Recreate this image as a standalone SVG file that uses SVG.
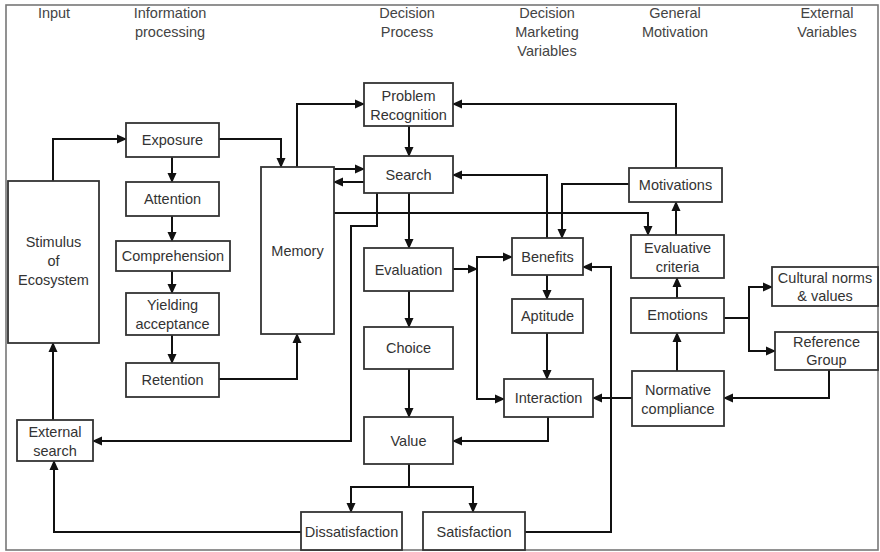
<svg xmlns="http://www.w3.org/2000/svg" width="880" height="552" viewBox="0 0 880 552">
<defs>
<marker id="ah" markerUnits="userSpaceOnUse" markerWidth="10" markerHeight="10" refX="9" refY="5" orient="auto">
<path d="M0,0.5 L10,5 L0,9.5 z" fill="#111"/>
</marker>
<style>
.box{fill:#fff;stroke:#333;stroke-width:1.8}
.t{font-family:"Liberation Sans",Arial,sans-serif;font-size:14.5px;fill:#333;text-anchor:middle}
.h{font-family:"Liberation Sans",Arial,sans-serif;font-size:14.5px;fill:#444;text-anchor:middle}
.c{fill:none;stroke:#111;stroke-width:2}
.a{marker-end:url(#ah)}
</style>
</defs>
<rect x="0" y="0" width="880" height="552" fill="#fff"/>
<rect x="6" y="5" width="872" height="545" fill="none" stroke="#777" stroke-width="1.6"/>

<g id="headers">
<text class="h" x="54" y="18">Input</text>
<text class="h" x="170" y="18">Information</text>
<text class="h" x="170" y="37">processing</text>
<text class="h" x="407" y="18">Decision</text>
<text class="h" x="407" y="37">Process</text>
<text class="h" x="547" y="18">Decision</text>
<text class="h" x="547" y="37">Marketing</text>
<text class="h" x="547" y="56">Variables</text>
<text class="h" x="675" y="18">General</text>
<text class="h" x="675" y="37">Motivation</text>
<text class="h" x="827" y="18">External</text>
<text class="h" x="827" y="37">Variables</text>
</g>

<g id="connectors">
<path class="c a" d="M53,181 V139 H126"/>
<path class="c a" d="M172,157 V182"/>
<path class="c a" d="M172,216 V241"/>
<path class="c a" d="M172,271 V293"/>
<path class="c a" d="M172,335 V363"/>
<path class="c a" d="M219,379 H297 V334"/>
<path class="c a" d="M219,139 H281 V167"/>
<path class="c a" d="M297,167 V104 H364"/>
<path class="c a" d="M409,126 V156"/>
<path class="c a" d="M334,169 H364"/>
<path class="c a" d="M364,182 H334"/>
<path class="c a" d="M409,193 V248"/>
<path class="c a" d="M409,291 V327"/>
<path class="c a" d="M334,213 H648 V235"/>
<path class="c a" d="M377,193 V226 H351 V441 H93"/>
<path class="c a" d="M547,238 V175 H453"/>
<path class="c a" d="M629,184 H562 V238"/>
<path class="c a" d="M676,168 V104 H453"/>
<path class="c a" d="M676,235 V202"/>
<path class="c a" d="M677,298 V278"/>
<path class="c a" d="M677,371 V333"/>
<path class="c" d="M724,318 H749"/>
<path class="c a" d="M749,318 V287 H772"/>
<path class="c a" d="M749,318 V351 H775"/>
<path class="c a" d="M829,370 V398 H724"/>
<path class="c a" d="M632,398 H593"/>
<path class="c a" d="M453,269 H477"/>
<path class="c a" d="M477,269 V257 H512"/>
<path class="c a" d="M477,269 V399 H504"/>
<path class="c a" d="M547,275 V299"/>
<path class="c a" d="M547,333 V379"/>
<path class="c a" d="M548,417 V441 H453"/>
<path class="c a" d="M409,369 V417"/>
<path class="c" d="M409,464 V487"/>
<path class="c a" d="M409,487 H351 V512"/>
<path class="c a" d="M409,487 H473 V512"/>
<path class="c a" d="M301,532 H54 V461"/>
<path class="c a" d="M53,420 V343"/>
<path class="c a" d="M525,532 H611 V267 H583"/>
</g>

<g id="stimulus"><rect class="box" x="8" y="181" width="91" height="162"/>
<text class="t" x="53.5" y="247">Stimulus</text><text class="t" x="53.5" y="266">of</text><text class="t" x="53.5" y="285">Ecosystem</text></g>
<g id="exposure"><rect class="box" x="126" y="123" width="93" height="34"/><text class="t" x="172.5" y="145">Exposure</text></g>
<g id="attention"><rect class="box" x="126" y="182" width="93" height="34"/><text class="t" x="172.5" y="204">Attention</text></g>
<g id="comprehension"><rect class="box" x="116" y="241" width="114" height="30"/><text class="t" x="173" y="261">Comprehension</text></g>
<g id="yielding"><rect class="box" x="126" y="293" width="93" height="42"/><text class="t" x="172.5" y="310">Yielding</text><text class="t" x="172.5" y="329">acceptance</text></g>
<g id="retention"><rect class="box" x="126" y="363" width="93" height="34"/><text class="t" x="172.5" y="385">Retention</text></g>
<g id="external-search"><rect class="box" x="17" y="420" width="76" height="41"/><text class="t" x="55" y="437">External</text><text class="t" x="55" y="456">search</text></g>
<g id="memory"><rect class="box" x="261" y="167" width="73" height="167"/><text class="t" x="297.5" y="256">Memory</text></g>
<g id="problem-recognition"><rect class="box" x="364" y="83" width="89" height="43"/><text class="t" x="408.5" y="101">Problem</text><text class="t" x="408.5" y="120">Recognition</text></g>
<g id="search"><rect class="box" x="364" y="156" width="89" height="37"/><text class="t" x="408.5" y="180">Search</text></g>
<g id="evaluation"><rect class="box" x="364" y="248" width="89" height="43"/><text class="t" x="408.5" y="275">Evaluation</text></g>
<g id="choice"><rect class="box" x="364" y="327" width="89" height="42"/><text class="t" x="408.5" y="353">Choice</text></g>
<g id="value"><rect class="box" x="364" y="417" width="89" height="47"/><text class="t" x="408.5" y="446">Value</text></g>
<g id="dissatisfaction"><rect class="box" x="301" y="512" width="101" height="38"/><text class="t" x="351.5" y="537">Dissatisfaction</text></g>
<g id="satisfaction"><rect class="box" x="423" y="512" width="102" height="38"/><text class="t" x="474" y="537">Satisfaction</text></g>
<g id="benefits"><rect class="box" x="512" y="238" width="71" height="37"/><text class="t" x="547.5" y="262">Benefits</text></g>
<g id="aptitude"><rect class="box" x="512" y="299" width="71" height="34"/><text class="t" x="547.5" y="321">Aptitude</text></g>
<g id="interaction"><rect class="box" x="504" y="379" width="89" height="38"/><text class="t" x="548.5" y="403">Interaction</text></g>
<g id="motivations"><rect class="box" x="629" y="168" width="93" height="34"/><text class="t" x="675.5" y="190">Motivations</text></g>
<g id="evaluative-criteria"><rect class="box" x="631" y="235" width="93" height="43"/><text class="t" x="677.5" y="253">Evaluative</text><text class="t" x="677.5" y="272">criteria</text></g>
<g id="emotions"><rect class="box" x="631" y="298" width="93" height="35"/><text class="t" x="677.5" y="320">Emotions</text></g>
<g id="normative-compliance"><rect class="box" x="632" y="371" width="92" height="55"/><text class="t" x="678" y="395">Normative</text><text class="t" x="678" y="414">compliance</text></g>
<g id="cultural-norms"><rect class="box" x="772" y="267" width="106" height="39"/><text class="t" x="825" y="283">Cultural norms</text><text class="t" x="825" y="301">&amp; values</text></g>
<g id="reference-group"><rect class="box" x="775" y="332" width="103" height="38"/><text class="t" x="826.5" y="347">Reference</text><text class="t" x="826.5" y="365">Group</text></g>
</svg>
